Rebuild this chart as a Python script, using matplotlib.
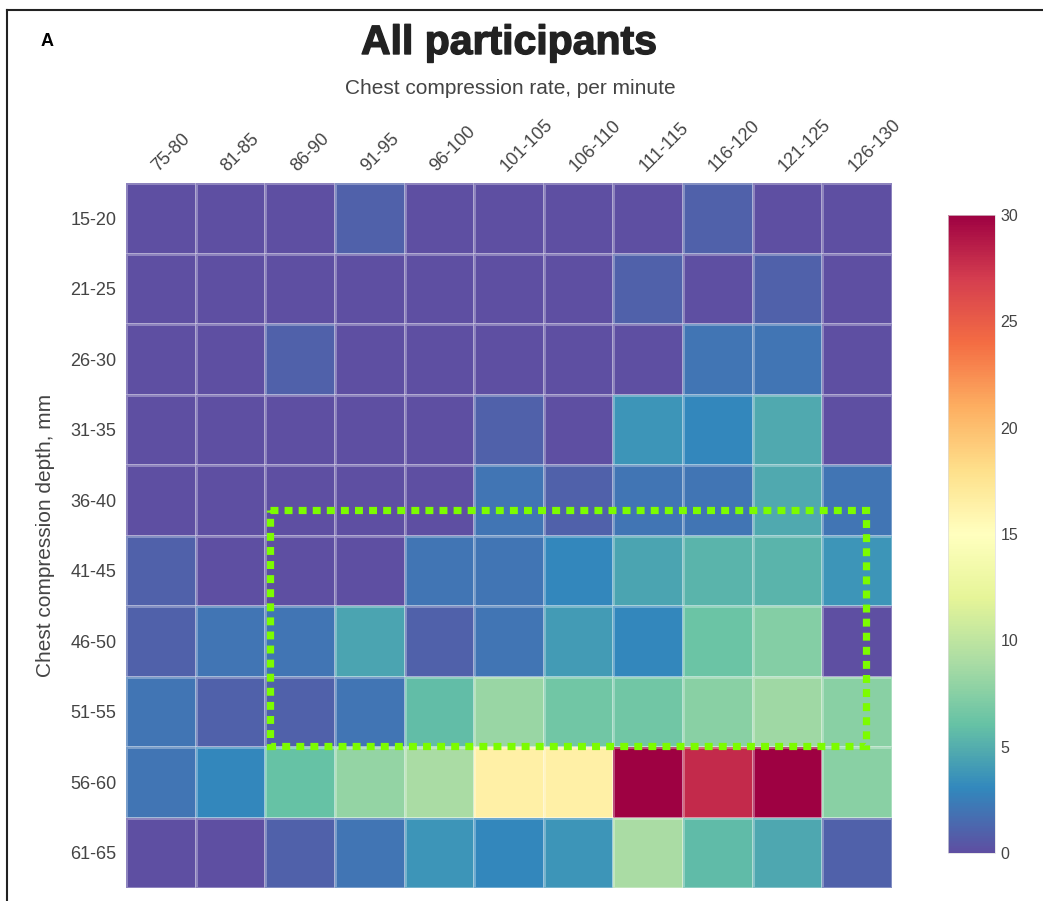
import numpy as np
import matplotlib
matplotlib.use("Agg")
import matplotlib.pyplot as plt
import matplotlib.patheffects as pe
from matplotlib.patches import Rectangle
from matplotlib.lines import Line2D

plt.rcParams['font.family'] = ['Liberation Sans', 'DejaVu Sans']

# compression rate bins (columns) and depth bins (rows)
rates = ['75-80', '81-85', '86-90', '91-95', '96-100', '101-105',
         '106-110', '111-115', '116-120', '121-125', '126-130']
depths = ['15-20', '21-25', '26-30', '31-35', '36-40',
          '41-45', '46-50', '51-55', '56-60', '61-65']

# values per cell, row = depth bin, col = rate bin
counts = [
    [0, 0, 0, 1, 0, 0, 0, 0, 1, 0, 0],
    [0, 0, 0, 0, 0, 0, 0, 1, 0, 1, 0],
    [0, 0, 1, 0, 0, 0, 0, 0, 2, 2, 0],
    [0, 0, 0, 0, 0, 1, 0, 3.7, 3, 4.7, 0],
    [0, 0, 0, 0, 0, 2, 1, 2, 2, 4.7, 2],
    [1, 0, 0, 0, 2, 2, 3, 4.5, 5.3, 5.3, 3.7],
    [1, 2, 2, 4.5, 1, 2, 4, 3, 6.3, 7.3, 0],
    [2, 1, 1, 2, 5.8, 8.3, 6.5, 6.5, 7.5, 8.5, 7.5],
    [2, 3, 6, 8, 9, 16.5, 16.5, 30, 28, 30, 7.5],
    [0, 0, 1, 2, 3.7, 3, 3.7, 9, 5.7, 4.6, 1],
]

W, H = 1043, 901
fig = plt.figure(figsize=(W / 100, H / 100), dpi=100)

def px(x0, y0, x1, y1):
    # pixel box (top-left origin) -> figure fraction
    return [x0 / W, 1 - y1 / H, (x1 - x0) / W, (y1 - y0) / H]

ax = fig.add_axes(px(126, 183, 892, 888))
z = np.array(counts)
mesh = ax.pcolormesh(z, cmap='Spectral_r', vmin=0, vmax=30,
                     edgecolors=(1, 1, 1, 0.3), linewidth=0.8)
ax.set_xlim(0, len(rates))
ax.set_ylim(len(depths), 0)
for s in ax.spines.values():
    s.set_visible(False)

ax.xaxis.tick_top()
ax.set_xticks(np.arange(len(rates)) + 0.5)
ax.set_xticklabels(rates, rotation=45, ha='left', va='bottom',
                   rotation_mode='anchor', fontsize=13, color='#444444')
ax.set_yticks(np.arange(len(depths)) + 0.5)
ax.set_yticklabels(depths, fontsize=13, color='#444444')
ax.tick_params(length=0)
ax.tick_params(axis='x', pad=6)
ax.tick_params(axis='y', pad=7)

# target zone marker
ax.add_patch(Rectangle((2.07, 4.64), 8.56, 3.34, fill=False,
                       edgecolor='#7cfc00', linewidth=5.2,
                       linestyle=(0, (1.1, 0.85)), zorder=5))

cax = fig.add_axes(px(948, 215, 995, 853))
cb = fig.colorbar(mesh, cax=cax, ticks=[0, 5, 10, 15, 20, 25, 30])
cb.outline.set_edgecolor('#dddddd')
cb.outline.set_linewidth(0.5)
cax.tick_params(length=0, labelsize=11.5, labelcolor='#444444', pad=4)

fig.text(509 / W, 1 - 43 / H, 'All participants', ha='center', va='center',
         fontsize=29.5, fontweight='bold', color='#222222',
         path_effects=[pe.withStroke(linewidth=1.0, foreground='#222222')])
fig.text(510 / W, 1 - 89 / H, 'Chest compression rate, per minute',
         ha='center', va='center', fontsize=15, color='#444444')
fig.text(46 / W, 1 - 535 / H, 'Chest compression depth, mm', ha='center',
         va='center', rotation=90, fontsize=15, color='#444444')
fig.text(47 / W, 1 - 42 / H, 'A', ha='center', va='center',
         fontsize=13, fontweight='bold', color='black')

# panel frame (top and left edges)
fig.add_artist(Line2D([7 / W, 7 / W], [0, 1 - 10 / H], transform=fig.transFigure,
                      color='#222222', linewidth=1.5))
fig.add_artist(Line2D([7 / W, 1], [1 - 10 / H, 1 - 10 / H], transform=fig.transFigure,
                      color='#222222', linewidth=1.5))

fig.savefig('out.png', dpi=100)
